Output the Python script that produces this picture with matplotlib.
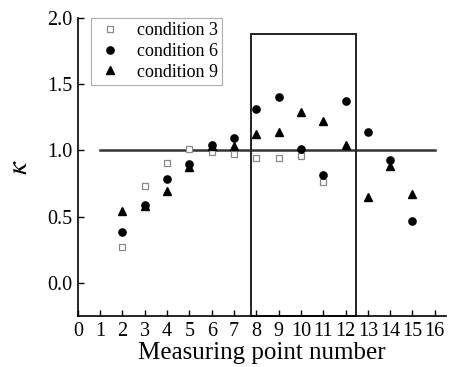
import matplotlib
matplotlib.use("Agg")
import matplotlib.pyplot as plt
from matplotlib.patches import Rectangle

plt.rcParams['font.family'] = ['Liberation Serif', 'DejaVu Serif']
plt.rcParams['mathtext.fontset'] = 'stix'

points_c3 = [2, 3, 4, 5, 6, 7, 8, 9, 10, 11]
kappa_c3 = [0.27, 0.735, 0.905, 1.01, 0.99, 0.975, 0.945, 0.945, 0.955, 0.765]

points_c6 = [2, 3, 4, 5, 6, 7, 8, 9, 10, 11, 12, 13, 14, 15]
kappa_c6 = [0.385, 0.59, 0.785, 0.895, 1.04, 1.095, 1.31, 1.405, 1.01, 0.815, 1.37, 1.14, 0.925, 0.465]

points_c9 = [2, 3, 4, 5, 6, 7, 8, 9, 10, 11, 12, 13, 14, 15]
kappa_c9 = [0.54, 0.58, 0.69, 0.875, 1.03, 1.035, 1.125, 1.14, 1.29, 1.225, 1.04, 0.65, 0.88, 0.67]

x_ticks = list(range(0, 17))
y_ticks = [0.0, 0.5, 1.0, 1.5, 2.0]

ref_line_x = [1, 16]
ref_line_y = [1.0, 1.0]

#highlighted region (measuring points 8 to 12)
box_left, box_right, box_top = 7.75, 12.45, 1.88

fig = plt.figure(figsize=(4.5, 3.67), dpi=100)
ax = fig.add_axes([0.173, 0.139, 0.818, 0.812])

ax.plot(ref_line_x, ref_line_y, color='#333333', linewidth=1.8, zorder=1)
ax.add_patch(Rectangle((box_left, -0.25), box_right - box_left, box_top + 0.25,
                       fill=False, edgecolor='#222222', linewidth=1.4, zorder=2, clip_on=False))

ax.plot(points_c3, kappa_c3, linestyle='none', marker='s', markersize=4.2,
        markerfacecolor='white', markeredgecolor='#888888', markeredgewidth=0.9,
        label='condition 3', zorder=3)
ax.plot(points_c6, kappa_c6, linestyle='none', marker='o', markersize=5.2,
        color='black', label='condition 6', zorder=4)
ax.plot(points_c9, kappa_c9, linestyle='none', marker='^', markersize=5.6,
        color='black', label='condition 9', zorder=4)

ax.set_xlim(0, 16.5)
ax.set_ylim(-0.25, 2.0)
ax.set_xticks(x_ticks)
ax.set_yticks(y_ticks)
ax.set_yticklabels([f"{v:.1f}" for v in y_ticks])
ax.tick_params(direction='in', length=4, width=1.0, labelsize=14.5, pad=4)
ax.tick_params(axis='x', pad=4)

ax.spines['top'].set_visible(False)
ax.spines['right'].set_visible(False)
ax.spines['left'].set_linewidth(1.2)
ax.spines['bottom'].set_linewidth(1.2)

ax.set_xlabel("Measuring point number", fontsize=18, labelpad=1)
ax.set_ylabel(r"$\kappa$", fontsize=21, labelpad=10)

leg = ax.legend(loc='upper left', bbox_to_anchor=(0.035, 1.0), fontsize=13,
                frameon=True, fancybox=False, edgecolor='#999999',
                handletextpad=0.7, borderpad=0.25, labelspacing=0.2,
                handlelength=1.6, borderaxespad=0.0)
leg.get_frame().set_linewidth(0.8)

fig.savefig("out.png", dpi=100)
